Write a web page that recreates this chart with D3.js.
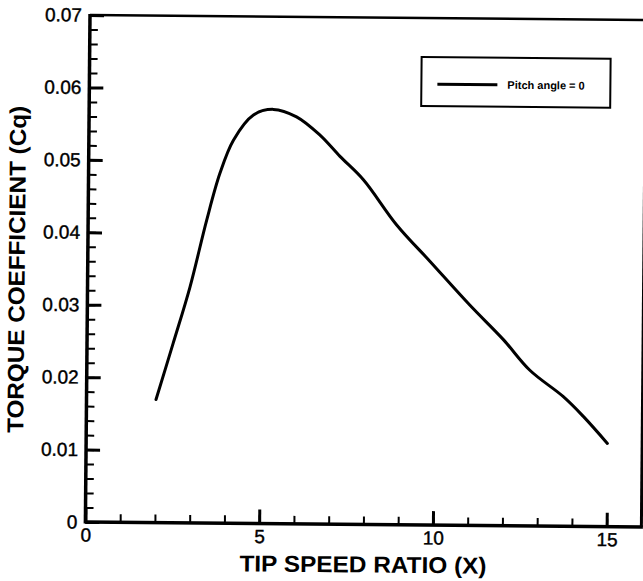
<!DOCTYPE html>
<html lang="en">
<head>
<meta charset="utf-8">
<title>Torque coefficient vs tip speed ratio</title>
<script src="https://d3js.org/d3.v7.min.js"></script>
<style>
    body { margin: 0; background: #fff; }
    text { font-family: "Liberation Sans", Arial, sans-serif; fill: #000; }
</style>
</head>
<body>
<div id="chart"></div>
<script>
    // values (pitch angle = 0)
    var tsr = [2.0, 2.48, 2.95, 3.41, 3.78, 4.16, 4.73, 5.30, 5.97, 6.65, 7.23, 7.91, 8.88, 9.85, 11.01, 11.98, 12.75, 13.72, 14.30, 15.0];
    var cq  = [0.0170, 0.0248, 0.0326, 0.0418, 0.0483, 0.0529, 0.0564, 0.0572, 0.0562, 0.0537, 0.0508, 0.0476, 0.0414, 0.0364, 0.0304, 0.0257, 0.0215, 0.0179, 0.0152, 0.0115];

    var xTicks = [0, 5, 10, 15];
    var xMinor = d3.range(0, 16, 1);
    var yTicks = [0, 0.01, 0.02, 0.03, 0.04, 0.05, 0.06, 0.07];
    var yMinor = d3.range(0, 0.0701, 0.002);
    var seriesName = "Pitch angle = 0";

    var W = 643, H = 581;
    var width = 556, height = 507;

    var svg = d3.select("#chart").append("svg")
        .attr("width", W)
        .attr("height", H);

    // the scanned figure is slightly tilted
    var g = svg.append("g")
        .attr("transform", "translate(90,15) rotate(0.52)");

    var x = d3.scaleLinear().domain([0, 16]).range([0, width]);
    var y = d3.scaleLinear().domain([0, 0.07]).range([height, 0]);

    // minor ticks
    g.append("g")
        .attr("transform", "translate(0," + height + ")")
        .call(d3.axisBottom(x).tickValues(xMinor).tickSize(-8).tickFormat(""))
        .call(function(a) { a.select(".domain").remove(); a.selectAll("line").attr("stroke-width", 2); });
    g.append("g")
        .call(d3.axisLeft(y).tickValues(yMinor).tickSize(-8).tickFormat(""))
        .call(function(a) { a.select(".domain").remove(); a.selectAll("line").attr("stroke-width", 2); });

    // major ticks + labels
    g.append("g")
        .attr("transform", "translate(0," + height + ")")
        .call(d3.axisBottom(x).tickValues(xTicks).tickSize(-14).tickPadding(6).tickFormat(d3.format("d")))
        .call(function(a) {
            a.select(".domain").remove();
            a.selectAll("line").attr("stroke-width", 3);
            a.selectAll("text").attr("font-size", 19).attr("font-family", "Liberation Sans, Arial, sans-serif")
                .attr("stroke", "#000").attr("stroke-width", 0.4);
        });
    g.append("g")
        .call(d3.axisLeft(y).tickValues(yTicks).tickSize(-14).tickPadding(8)
            .tickFormat(function(d) { return d === 0 ? "0" : d3.format(".2f")(d); }))
        .call(function(a) {
            a.select(".domain").remove();
            a.selectAll("line").attr("stroke-width", 3);
            a.selectAll("text").attr("font-size", 19).attr("font-family", "Liberation Sans, Arial, sans-serif")
                .attr("stroke", "#000").attr("stroke-width", 0.4);
        });

    // frame
    g.append("line").attr("x1", 0).attr("y1", 0).attr("x2", width).attr("y2", 0)
        .attr("stroke", "#000").attr("stroke-width", 2.5);
    g.append("line").attr("x1", width).attr("y1", 0).attr("x2", width).attr("y2", height)
        .attr("stroke", "#000").attr("stroke-width", 3);
    g.append("line").attr("x1", 0).attr("y1", -1).attr("x2", 0).attr("y2", height + 1.5)
        .attr("stroke", "#000").attr("stroke-width", 3.5);
    g.append("line").attr("x1", 0).attr("y1", height).attr("x2", width + 1.5).attr("y2", height)
        .attr("stroke", "#000").attr("stroke-width", 3.5);

    // curve
    var pts = tsr.map(function(d, i) { return [d, cq[i]]; });
    g.append("path")
        .datum(pts)
        .attr("fill", "none")
        .attr("stroke", "#000")
        .attr("stroke-width", 3)
        .attr("stroke-linecap", "round")
        .attr("d", d3.line()
            .x(function(d) { return x(d[0]); })
            .y(function(d) { return y(d[1]); })
            .curve(d3.curveCatmullRom.alpha(0.5)));

    // legend
    var leg = g.append("g").attr("transform", "translate(332,39)");
    leg.append("rect")
        .attr("width", 189).attr("height", 49)
        .attr("fill", "#fff").attr("stroke", "#000").attr("stroke-width", 2);
    leg.append("line")
        .attr("x1", 16).attr("x2", 76).attr("y1", 27).attr("y2", 27)
        .attr("stroke", "#000").attr("stroke-width", 3);
    leg.append("text")
        .attr("x", 86).attr("y", 31)
        .attr("font-size", 11).attr("font-weight", "bold")
        .text(seriesName);

    // axis titles
    g.append("text")
        .attr("x", width / 2).attr("y", height + 48)
        .attr("text-anchor", "middle")
        .attr("font-size", 23).attr("font-weight", "bold")
        .attr("textLength", 247).attr("lengthAdjust", "spacingAndGlyphs")
        .text("TIP SPEED RATIO (X)");
    g.append("text")
        .attr("transform", "translate(-63,255) rotate(-90)")
        .attr("text-anchor", "middle")
        .attr("font-size", 23).attr("font-weight", "bold")
        .attr("textLength", 327).attr("lengthAdjust", "spacingAndGlyphs")
        .text("TORQUE COEFFICIENT (Cq)");
</script>
</body>
</html>
